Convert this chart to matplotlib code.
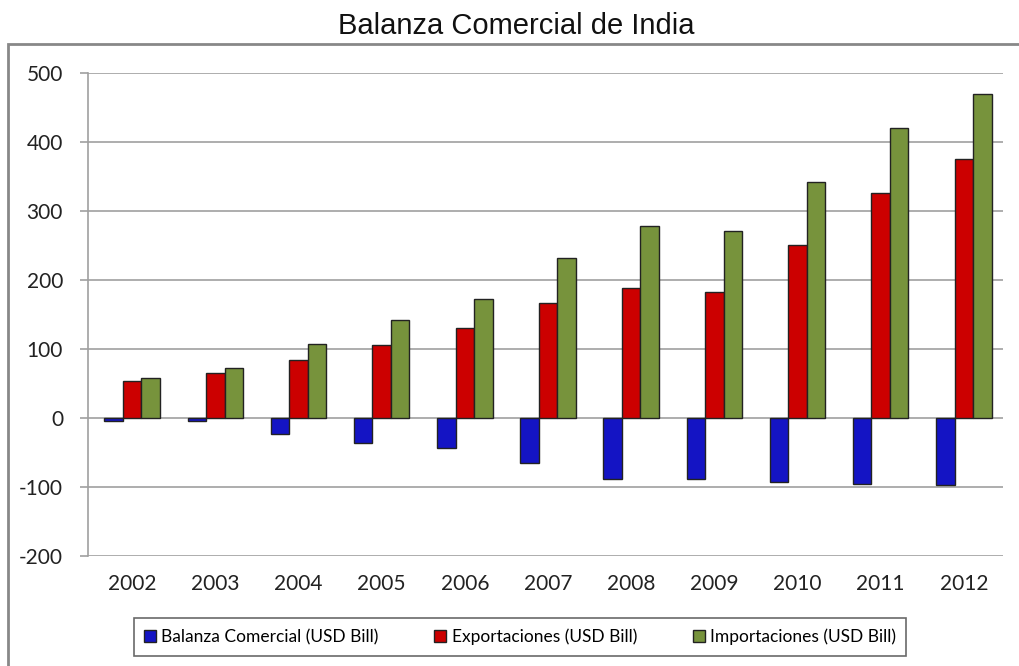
import matplotlib
matplotlib.use("Agg")
import matplotlib.pyplot as plt
import numpy as np
from matplotlib.patches import Rectangle

years = ["2002", "2003", "2004", "2005", "2006", "2007", "2008", "2009", "2010", "2011", "2012"]
balanza = [-4, -5, -23, -36, -43, -65, -88, -88, -93, -96, -97]
exportaciones = [54, 65, 84, 106, 130, 167, 188, 182, 251, 326, 375]
importaciones = [58, 72, 107, 142, 172, 232, 278, 271, 342, 420, 470]
series_names = ["Balanza Comercial (USD Bill)", "Exportaciones (USD Bill)", "Importaciones (USD Bill)"]
colors = ["#1414C4", "#CC0000", "#77933C"]

plt.rcParams['font.family'] = ['Lato', 'DejaVu Sans']
plt.rcParams['axes.unicode_minus'] = False

fig = plt.figure(figsize=(10.19, 6.66), dpi=100)
ax = fig.add_axes([88/1019, 1-556/666, (1003-88)/1019, (556-73)/666])

x = np.arange(len(years))
w = 0.222
for i, (vals, c, name) in enumerate(zip([balanza, exportaciones, importaciones], colors, series_names)):
    ax.bar(x + (i-1)*w + 0.03, vals, width=w, color=c, edgecolor="#222222", linewidth=1.0, label=name, zorder=3)

ax.set_xlim(-0.5, len(years)-0.5)
ax.set_ylim(-200, 500)
ax.set_yticks(range(-200, 501, 100))
ax.set_xticks(x + 0.03)
ax.set_xticklabels(years)
ax.yaxis.grid(True, color="#A0A0A0", linewidth=1.2, zorder=0)
for s in ["top", "right", "bottom"]:
    ax.spines[s].set_visible(False)
ax.spines["left"].set_color("#A0A0A0")
ax.spines["left"].set_linewidth(1.2)
ax.tick_params(axis="y", colors="#A0A0A0", labelcolor="#222222", length=6, width=1.2, labelsize=15, pad=12)
ax.tick_params(axis="x", length=0, labelsize=15, labelcolor="#222222", pad=13)

fig.text(516/1019, 1-26/666, "Balanza Comercial de India", ha="center", va="center",
         fontsize=21, family=['Liberation Sans Narrow', 'Liberation Sans', 'DejaVu Sans'], color="#111111")

frame = Rectangle((8/1019, -0.05), 1.1, 1-44/666+0.05, transform=fig.transFigure,
                  fill=False, edgecolor="#888888", linewidth=2, clip_on=False)
fig.patches.append(frame)

leg = fig.legend(loc="center", bbox_to_anchor=(520/1019, 1-637/666), ncol=3, fontsize=12.5,
                 frameon=True, fancybox=False, handlelength=0.7, handleheight=0.7,
                 handletextpad=0.3, columnspacing=3.2, borderpad=0.6, borderaxespad=0)
leg.get_frame().set_edgecolor("#444444")
leg.get_frame().set_linewidth(1.2)

fig.savefig("out.png", dpi=100)
